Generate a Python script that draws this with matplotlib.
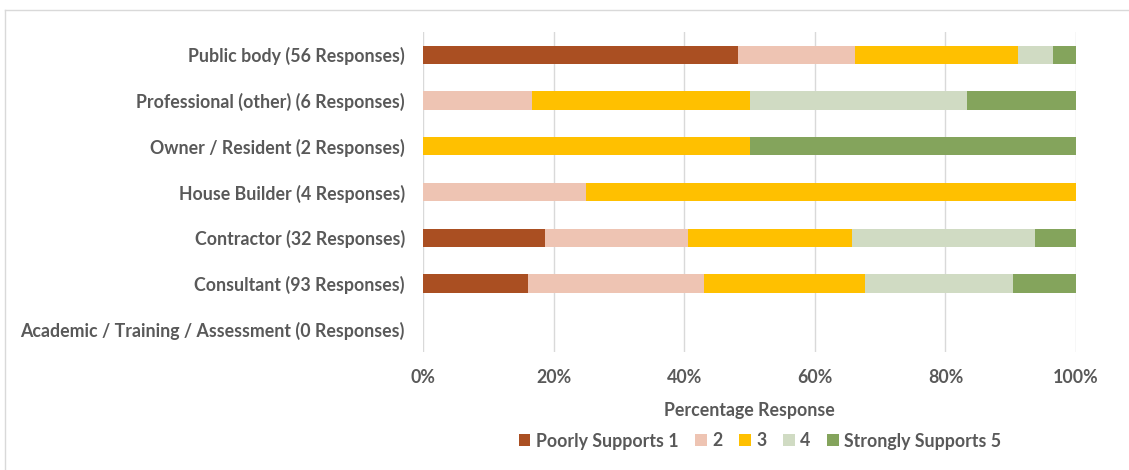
import matplotlib
matplotlib.use("Agg")
import matplotlib.pyplot as plt
from matplotlib.lines import Line2D
import numpy as np

categories = [
    "Academic / Training / Assessment (0 Responses)",
    "Consultant (93 Responses)",
    "Contractor (32 Responses)",
    "House Builder (4 Responses)",
    "Owner / Resident (2 Responses)",
    "Professional (other) (6 Responses)",
    "Public body (56 Responses)",
]
series_names = ["Poorly Supports 1", "2", "3", "4", "Strongly Supports 5"]
s1 = [0, 16.1, 18.75, 0, 0, 0, 48.2]
s2 = [0, 26.9, 21.9, 25.0, 0, 16.7, 17.9]
s3 = [0, 24.7, 25.0, 75.0, 50.0, 33.3, 25.0]
s4 = [0, 22.6, 28.1, 0, 0, 33.3, 5.4]
s5 = [0, 9.7, 6.25, 0, 50.0, 16.7, 3.5]
colors = ["#AA4F22", "#EEC4B3", "#FFC000", "#D0DBC3", "#84A45C"]
xticks = [0, 20, 40, 60, 80, 100]
xtick_labels = ["0%", "20%", "40%", "60%", "80%", "100%"]

plt.rcParams["font.family"] = ["Lato", "DejaVu Sans"]
txt = "#595959"
fs = 12.8

fig = plt.figure(figsize=(11.29, 4.70), dpi=100)
ax = fig.add_axes([423/1129, 1-352/470, (1076-423)/1129, 320/470])

y = np.arange(len(categories))
left = np.zeros(len(categories))
for vals, name, c in zip([s1, s2, s3, s4, s5], series_names, colors):
    vals = np.array(vals)
    ax.barh(y, vals, left=left, height=0.4, color=c, label=name, zorder=3)
    left += vals

ax.set_xlim(0, 100)
ax.set_ylim(-0.5, len(categories) - 0.5)
ax.set_yticks(y)
ax.set_yticklabels(categories, fontsize=fs, fontweight="bold", color=txt)
ax.set_xticks(xticks)
ax.set_xticklabels(xtick_labels, fontsize=fs, fontweight="bold", color=txt)
ax.tick_params(axis="both", length=0)
ax.tick_params(axis="y", pad=13)
ax.tick_params(axis="x", pad=12)
ax.grid(axis="x", color="#D9D9D9", linewidth=1, zorder=0)
for s in ax.spines.values():
    s.set_visible(False)
ax.set_xlabel("Percentage Response", fontsize=fs, fontweight="bold", color=txt, labelpad=12)

handles, labels = ax.get_legend_handles_labels()
fig.legend(handles, labels, loc="center", bbox_to_anchor=(760/1129, 1-441/470), ncol=5,
           frameon=False, prop={"weight": "bold", "size": fs},
           handlelength=0.65, handleheight=0.65, handletextpad=0.3, columnspacing=0.95)
for t in fig.legends[0].get_texts():
    t.set_color(txt)

# figure frame (left and top edges)
fig.add_artist(Line2D([5/1129, 5/1129], [0, 1-10/470], color="#D9D9D9", lw=1, transform=fig.transFigure))
fig.add_artist(Line2D([5/1129, 1], [1-10/470, 1-10/470], color="#D9D9D9", lw=1, transform=fig.transFigure))

fig.savefig("out.png", dpi=100)
